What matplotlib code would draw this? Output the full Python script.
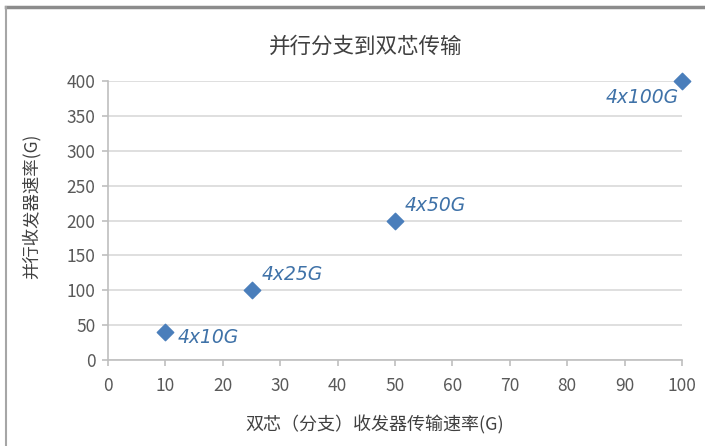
import matplotlib
matplotlib.use("Agg")
import matplotlib.pyplot as plt
from matplotlib.lines import Line2D

plt.rcParams["font.family"] = ["Noto Sans CJK SC", "DejaVu Sans"]

# branch rate vs. parallel transceiver rate
branch_rate = [10, 25, 50, 100]
parallel_rate = [40, 100, 200, 400]
point_labels = ["4x10G", "4x25G", "4x50G", "4x100G"]
label_offsets = [(9, -4, "left"), (7, 11, "left"), (7, 11, "left"), (-2, -12, "right")]

x_ticks = list(range(0, 101, 10))
y_ticks = list(range(0, 401, 50))

fig = plt.figure(figsize=(7.05, 4.46), dpi=100)
ax = fig.add_axes([0.1532, 0.1928, 0.8142, 0.6256])

ax.scatter(branch_rate, parallel_rate, marker="D", s=70, color="#4a7ebb",
           zorder=3, clip_on=False)

for x, y, text, (dx, dy, ha) in zip(branch_rate, parallel_rate, point_labels, label_offsets):
    ax.annotate(text, (x, y), xytext=(dx, dy), textcoords="offset points",
                ha=ha, va="center", fontsize=13.5, style="italic",
                color="#3f72a8", family=["DejaVu Sans"])

ax.set_xlim(0, 100)
ax.set_ylim(0, 400)
ax.set_xticks(x_ticks)
ax.set_yticks(y_ticks)
ax.yaxis.grid(True, color="#d9d9d9", linewidth=1.2)
ax.set_axisbelow(True)
for side in ["top", "right"]:
    ax.spines[side].set_visible(False)
for side in ["left", "bottom"]:
    ax.spines[side].set_color("#bfbfbf")
    ax.spines[side].set_linewidth(1.2)
ax.tick_params(axis="both", colors="#bfbfbf", labelcolor="#595959", labelsize=12.5,
               length=4, width=1.2)
ax.tick_params(axis="x", pad=8)
ax.tick_params(axis="y", pad=5)

fig.text(0.518, 0.895, "并行分支到双芯传输", ha="center", va="center", fontsize=15.5, color="#404040")
fig.text(0.532, 0.047, "双芯（分支）收发器传输速率(G)", ha="center", va="center", fontsize=13, color="#404040")
fig.text(0.044, 0.538, "并行收发器速率(G)", ha="center", va="center", rotation=90, fontsize=12.5, color="#404040")

# outer chart frame
fig.add_artist(Line2D([0.009, 1.0], [0.984, 0.984], transform=fig.transFigure, color="#8c8c8c", linewidth=2.5))
fig.add_artist(Line2D([0.009, 0.009], [0.0, 0.984], transform=fig.transFigure, color="#a6a6a6", linewidth=1.5))

fig.savefig("out.png", dpi=100)
